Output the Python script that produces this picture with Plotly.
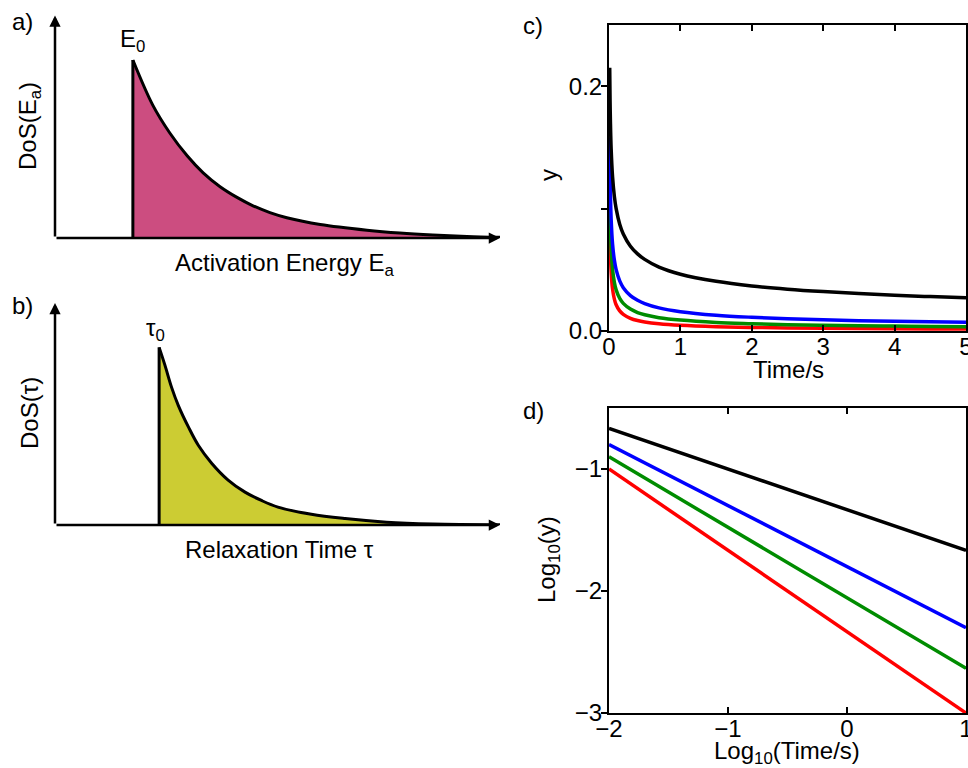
import plotly.graph_objects as go

FONT = "Liberation Sans, Arial, sans-serif"
FS = 24

# ---------------- data ----------------
# a) density of states vs activation energy (arbitrary units)
energy = [1.75, 2.20, 2.58, 2.97, 3.33, 3.71, 4.09, 4.45, 4.83, 5.21, 5.96, 7.01, 7.75, 8.49, 9.26, 10.0]
dos_energy = [1.00, 0.745, 0.59, 0.462, 0.366, 0.288, 0.228, 0.181, 0.143, 0.114, 0.076, 0.044, 0.028, 0.017, 0.009, 0.004]

# b) density of states vs relaxation time (arbitrary units)
tau = [2.34, 2.47, 2.62, 2.77, 3.00, 3.22, 3.52, 3.89, 4.27, 4.64, 5.01, 5.76, 6.52, 7.45, 8.49, 10.0]
dos_tau = [1.00, 0.90, 0.775, 0.674, 0.551, 0.449, 0.348, 0.253, 0.185, 0.138, 0.101, 0.060, 0.036, 0.016, 0.006, 0.002]

# c) decay curves y(t)
time_s = [0.01, 0.015, 0.02, 0.03, 0.05, 0.075, 0.1, 0.15, 0.2, 0.3, 0.4, 0.5, 0.7, 1.0,
          1.5, 2.0, 2.5, 3.0, 3.5, 4.0, 4.5, 5.0]
y_black = [0.215, 0.188, 0.171, 0.149, 0.126, 0.110, 0.100, 0.0873, 0.0793, 0.0693, 0.0630, 0.0585,
           0.0522, 0.0464, 0.0406, 0.0368, 0.0342, 0.0322, 0.0306, 0.0292, 0.0281, 0.0271]
y_blue = [0.158, 0.129, 0.112, 0.0915, 0.0709, 0.0579, 0.0501, 0.0409, 0.0354, 0.0289, 0.0251, 0.0224,
          0.0189, 0.0158, 0.0129, 0.0112, 0.0100, 0.00915, 0.00847, 0.00792, 0.00747, 0.00709]
y_green = [0.127, 0.101, 0.0854, 0.0676, 0.0503, 0.0398, 0.0336, 0.0266, 0.0226, 0.0179, 0.0151, 0.0133,
           0.0109, 0.0089, 0.0070, 0.0060, 0.0052, 0.0047, 0.0043, 0.0040, 0.0037, 0.0035]
y_red = [0.100, 0.0763, 0.0630, 0.0481, 0.0342, 0.0261, 0.0215, 0.0164, 0.0136, 0.0104, 0.00855, 0.00736,
         0.00588, 0.00464, 0.00354, 0.00292, 0.00252, 0.00223, 0.00201, 0.00184, 0.00170, 0.00159]

# d) log-log representation
log_time = [-2, -1, 0, 1]
log_black = [-0.667, -1.0, -1.333, -1.667]
log_blue = [-0.8, -1.3, -1.8, -2.3]
log_green = [-0.9, -1.478, -2.056, -2.634]
log_red = [-1.0, -1.667, -2.333, -3.0]

c_ticks = [0, 1, 2, 3, 4, 5]
c_yticks = [0, 0.1, 0.2]
c_yticktext = ["0.0", "", "0.2"]
d_xticks = [-2, -1, 0, 1]
d_yticks = [-3, -2, -1]

COLORS = {"black": "#000000", "blue": "#0000FF", "green": "#008C00", "red": "#FF0000"}
MAGENTA = "#CC4D80"
OLIVE = "#CCCC33"

fig = go.Figure()

# panel a
fig.add_trace(go.Scatter(x=energy, y=dos_energy, mode="lines", line=dict(color="black", width=3, shape="spline"),
                         fill="tozeroy", fillcolor=MAGENTA, xaxis="x", yaxis="y", hoverinfo="skip"))
fig.add_trace(go.Scatter(x=[energy[0], energy[0]], y=[0, dos_energy[0]], mode="lines",
                         line=dict(color="black", width=3), xaxis="x", yaxis="y", hoverinfo="skip"))
# panel b
fig.add_trace(go.Scatter(x=tau, y=dos_tau, mode="lines", line=dict(color="black", width=3, shape="spline"),
                         fill="tozeroy", fillcolor=OLIVE, xaxis="x2", yaxis="y2", hoverinfo="skip"))
fig.add_trace(go.Scatter(x=[tau[0], tau[0]], y=[0, dos_tau[0]], mode="lines",
                         line=dict(color="black", width=3), xaxis="x2", yaxis="y2", hoverinfo="skip"))

# panel c
for yv, col in [(y_red, "red"), (y_green, "green"), (y_blue, "blue"), (y_black, "black")]:
    fig.add_trace(go.Scatter(x=time_s, y=yv, mode="lines", line=dict(color=COLORS[col], width=3.5, shape="spline"),
                             xaxis="x3", yaxis="y3"))
# panel d
for yv, col in [(log_red, "red"), (log_green, "green"), (log_blue, "blue"), (log_black, "black")]:
    fig.add_trace(go.Scatter(x=log_time, y=yv, mode="lines", line=dict(color=COLORS[col], width=3.5),
                             xaxis="x4", yaxis="y4"))

W, H = 968, 768
def px(x):
    return x / W
def py(y):
    return 1 - y / H

hidden = dict(showline=False, showticklabels=False, ticks="", showgrid=False, zeroline=False,
              fixedrange=True, automargin=False)
tfont = dict(family=FONT, size=FS, color="black")

framed_x = dict(showline=True, linewidth=2, linecolor="black", mirror="allticks", ticks="inside", ticklen=6,
                tickwidth=2, tickcolor="black", showgrid=False, zeroline=False, tickfont=tfont,
                automargin=False, ticklabelstandoff=-7, ticklabeloverflow="allow")
framed_y = dict(showline=True, linewidth=2, linecolor="black", mirror=True, ticks="outside", ticklen=6,
                tickwidth=2, tickcolor="black", showgrid=False, zeroline=False, tickfont=tfont,
                automargin=False, ticklabelstandoff=-6, ticklabeloverflow="allow")
right_y = dict(showline=False, ticks="inside", ticklen=6, tickwidth=2, tickcolor="black", showgrid=False,
               zeroline=False, showticklabels=False, side="right", automargin=False)

fig.update_layout(
    width=W, height=H, margin=dict(l=0, r=0, t=0, b=0, autoexpand=False),
    paper_bgcolor="white", plot_bgcolor="rgba(0,0,0,0)", showlegend=False,
    font=dict(family=FONT, size=FS, color="black"),
    xaxis=dict(domain=[px(55), px(500)], range=[0, 10], anchor="y", **hidden),
    yaxis=dict(domain=[py(238), py(15.5)], range=[0, 1.25], anchor="x", **hidden),
    xaxis2=dict(domain=[px(55), px(500)], range=[0, 10], anchor="y2", **hidden),
    yaxis2=dict(domain=[py(525), py(303)], range=[0, 1.25], anchor="x2", **hidden),
    xaxis3=dict(domain=[px(609), px(966)], range=[0, 5], anchor="y3", tickvals=c_ticks, **framed_x),
    yaxis3=dict(domain=[py(331), py(25)], range=[0, 0.25], anchor="x3", tickvals=c_yticks,
                ticktext=c_yticktext, **framed_y),
    yaxis5=dict(overlaying="y3", anchor="x3", range=[0, 0.25], tickvals=c_yticks, **right_y),
    xaxis4=dict(domain=[px(609), px(966)], range=[-2, 1], anchor="y4", tickvals=d_xticks, **framed_x),
    yaxis4=dict(domain=[py(713), py(408)], range=[-3, -0.5], anchor="x4", tickvals=d_yticks, **framed_y),
    yaxis6=dict(overlaying="y4", anchor="x4", range=[-3, -0.5], tickvals=d_yticks, **right_y),
)


def label(x, y, text, angle=0):
    return dict(x=px(x), y=py(y), xref="paper", yref="paper", xanchor="center", yanchor="middle",
                text=text, textangle=angle, showarrow=False, font=tfont)


arrow = dict(showarrow=True, arrowhead=2, arrowsize=0.9, arrowwidth=2.5, arrowcolor="black", text="")
annotations = [
    dict(x=10, y=0, ax=0, ay=0, xref="x", yref="y", axref="x", ayref="y", **arrow),
    dict(x=0, y=1.25, ax=0, ay=0, xref="x", yref="y", axref="x", ayref="y", **arrow),
    dict(x=10, y=0, ax=0, ay=0, xref="x2", yref="y2", axref="x2", ayref="y2", **arrow),
    dict(x=0, y=1.25, ax=0, ay=0, xref="x2", yref="y2", axref="x2", ayref="y2", **arrow),
    dict(x=energy[0], y=1.11, xref="x", yref="y", text="E<sub>0</sub>", showarrow=False, font=tfont),
    dict(x=tau[0] - 0.08, y=1.10, xref="x2", yref="y2", text="τ<sub>0</sub>", showarrow=False, font=tfont),
    label(22, 21, "a)"),
    label(22, 305, "b)"),
    label(533, 26, "c)"),
    label(533, 410, "d)"),
    # axis titles
    label(284, 264, "Activation Energy E<sub>a</sub>"),
    label(29, 126, "DoS(E<sub>a</sub>)", -90),
    label(279, 549, "Relaxation Time τ"),
    label(29, 413, "DoS(τ)", -90),
    label(788, 370, "Time/s"),
    label(548, 175, "y", -90),
    label(787, 752, "Log<sub>10</sub>(Time/s)"),
    label(548, 560, "Log<sub>10</sub>(y)", -90),
]
fig.update_layout(annotations=annotations)

fig.write_html("out.html", config={"displayModeBar": False},
               post_script="document.body.style.margin='0';document.body.style.overflow='hidden';")
